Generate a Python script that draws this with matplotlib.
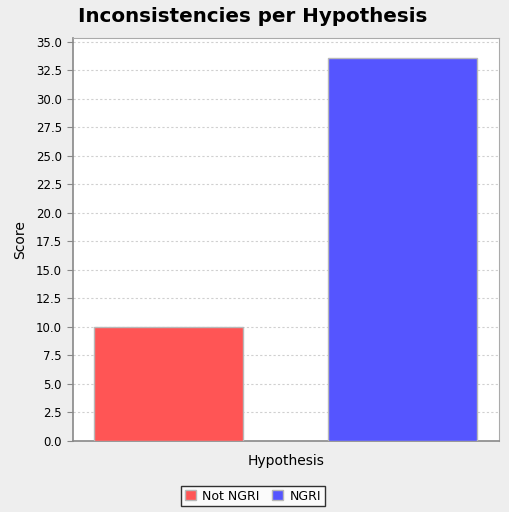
import matplotlib.pyplot as plt
from matplotlib.patches import Patch

series = ['Not NGRI', 'NGRI']
scores = [10.0, 33.6]
colors = ['#FF5555', '#5555FF']
yticks = [0.0, 2.5, 5.0, 7.5, 10.0, 12.5, 15.0, 17.5, 20.0, 22.5, 25.0, 27.5, 30.0, 32.5, 35.0]

fig = plt.figure(figsize=(5.1, 5.12), dpi=100, facecolor='#EEEEEE')
ax = fig.add_axes([73 / 510, 1 - 441 / 512, 426 / 510, 403 / 512])
ax.set_facecolor('white')

pos = list(range(len(series)))
ax.bar(pos, scores, width=0.637, color=colors, edgecolor='#B8B8B8', linewidth=1, zorder=3)

ax.set_xlim(-0.408, 1.412)
ax.set_ylim(0, 35.35)
ax.set_yticks(yticks)
ax.set_yticklabels([f'{v:.1f}' for v in yticks], fontsize=8.5)
ax.set_xticks([])
ax.yaxis.grid(True, linestyle=(0, (2, 2)), color='#D0D0D0', linewidth=0.8, zorder=0)
ax.tick_params(axis='y', length=4, color='#888888', pad=4)

for side in ['top', 'right']:
    ax.spines[side].set_color('#AAAAAA')
for side in ['left', 'bottom']:
    ax.spines[side].set_color('#888888')
    ax.spines[side].set_linewidth(1.2)

ax.set_ylabel('Score', fontsize=10, labelpad=6)
ax.set_xlabel('Hypothesis', fontsize=10, labelpad=9)
fig.suptitle('Inconsistencies per Hypothesis', fontsize=14.3, fontweight='bold',
             x=253 / 510, y=1 - 17 / 512, va='center')

handles = [Patch(facecolor=c, edgecolor='#B8B8B8', label=s) for c, s in zip(colors, series)]
leg = fig.legend(handles=handles, loc='center', bbox_to_anchor=(253 / 510, 1 - 496 / 512), ncol=2,
                 fontsize=9, frameon=True, fancybox=False, handlelength=0.9, handleheight=0.9,
                 handletextpad=0.5, columnspacing=1.0, borderpad=0.3, borderaxespad=0)
leg.get_frame().set_edgecolor('black')
leg.get_frame().set_linewidth(1)
leg.get_frame().set_facecolor('white')

fig.savefig('out.png', dpi=100, facecolor=fig.get_facecolor())
